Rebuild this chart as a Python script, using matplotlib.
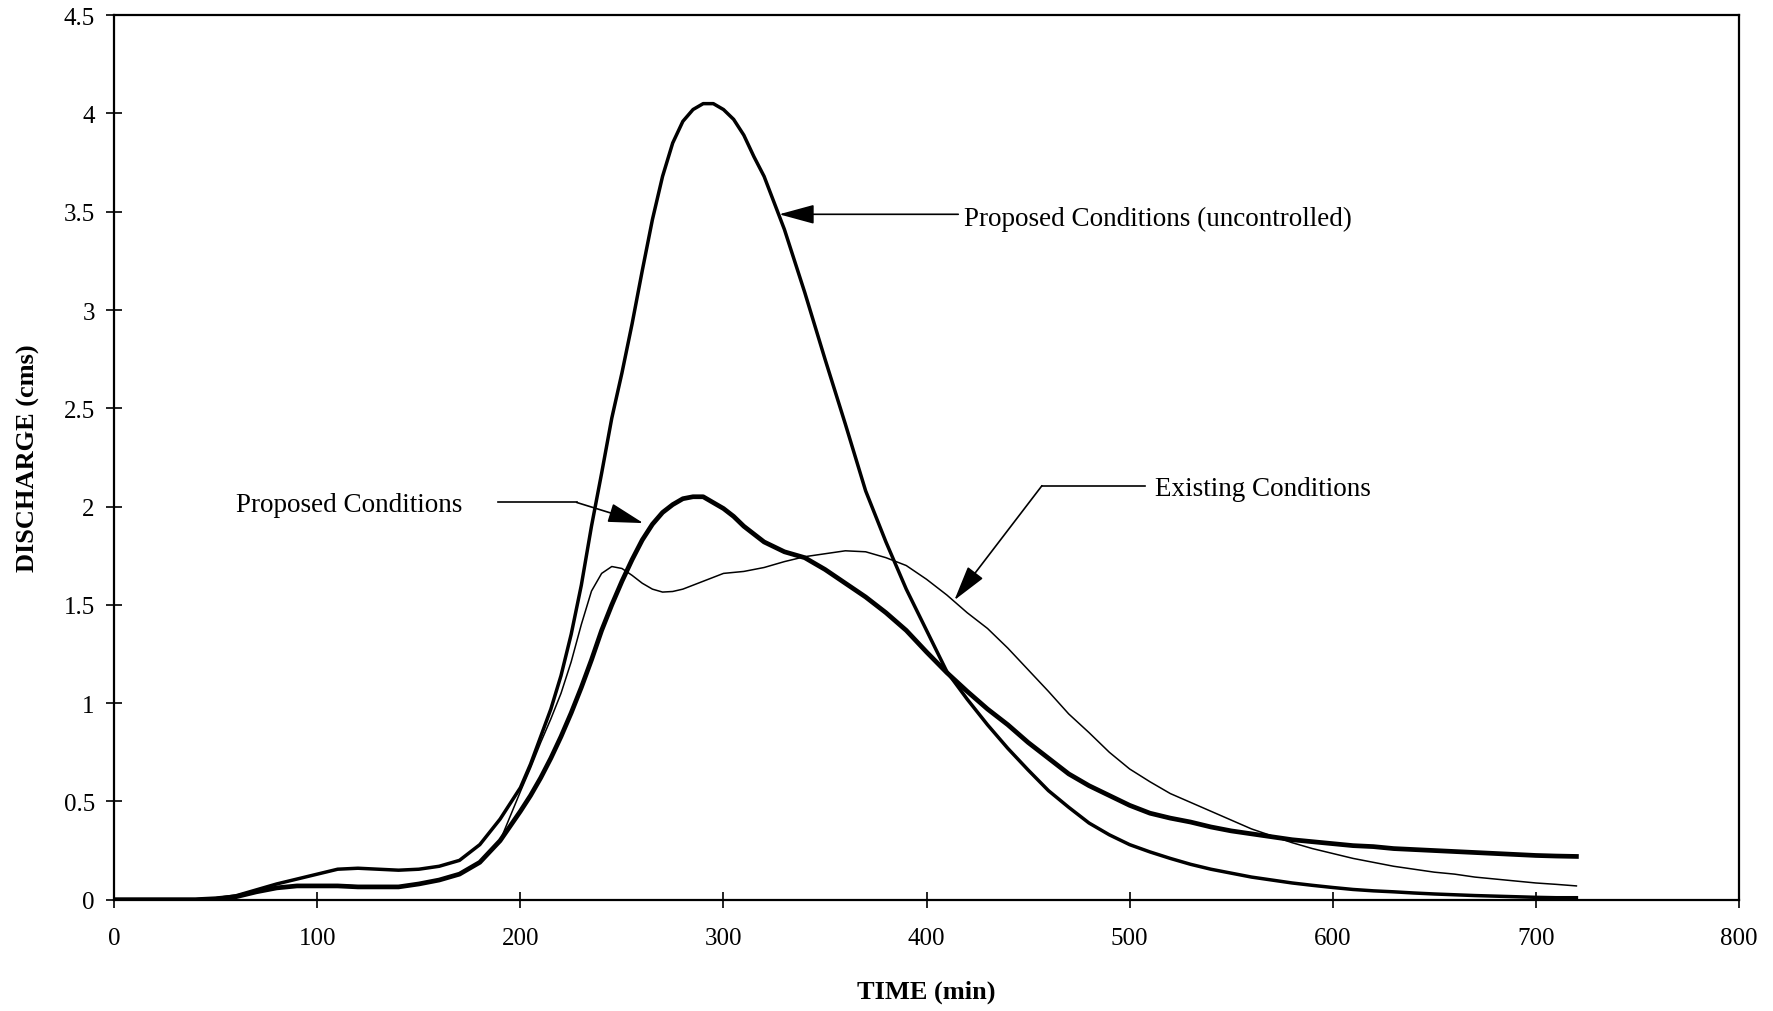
import matplotlib
matplotlib.use("Agg")
import matplotlib.pyplot as plt

# Hydrograph ordinates (time in minutes, discharge in cms);
# finer 5-minute spacing around the peaks
time_min = [0, 10, 20, 30, 40, 50, 60, 70, 80, 90, 100, 110, 120, 130, 140, 150,
            160, 170, 180, 190,
            200, 205, 210, 215, 220, 225, 230, 235, 240, 245, 250, 255, 260, 265,
            270, 275, 280, 285, 290, 295, 300, 305, 310, 315, 320,
            330, 340, 350, 360, 370, 380, 390, 400, 410, 420, 430,
            440, 450, 460, 470, 480, 490, 500, 510, 520, 530, 540, 550, 560, 570,
            580, 590, 600, 610, 620, 630, 640, 650, 660, 670, 680, 690, 700, 710,
            720]

proposed_uncontrolled = [0, 0, 0, 0, 0, 0.005, 0.02, 0.05, 0.08, 0.105, 0.13, 0.155,
                         0.16, 0.155, 0.15, 0.155, 0.17, 0.2, 0.28, 0.41,
                         0.57, 0.69, 0.83, 0.97, 1.14, 1.35, 1.6, 1.9, 2.17, 2.45,
                         2.68, 2.93, 3.2, 3.46, 3.68, 3.85, 3.96, 4.02, 4.05, 4.05,
                         4.02, 3.97, 3.89, 3.78, 3.68,
                         3.41, 3.09, 2.75, 2.42, 2.08, 1.82, 1.58, 1.37, 1.16, 1.02,
                         0.89, 0.77, 0.66, 0.555, 0.47, 0.39, 0.33, 0.28, 0.243,
                         0.21, 0.18, 0.155, 0.135, 0.115, 0.1, 0.085, 0.073, 0.062,
                         0.052, 0.045, 0.04, 0.034, 0.029, 0.025, 0.021, 0.018,
                         0.015, 0.012, 0.01, 0.01]

proposed = [0, 0, 0, 0, 0, 0.005, 0.015, 0.04, 0.06, 0.07, 0.07, 0.07, 0.065, 0.065,
            0.065, 0.08, 0.1, 0.13, 0.19, 0.3,
            0.45, 0.53, 0.62, 0.72, 0.83, 0.95, 1.08, 1.22, 1.37, 1.5, 1.62, 1.73,
            1.83, 1.91, 1.97, 2.01, 2.04, 2.05, 2.05, 2.02, 1.99, 1.95, 1.9, 1.86,
            1.82,
            1.77, 1.74, 1.68, 1.61, 1.54, 1.46, 1.37, 1.26, 1.155, 1.06, 0.97,
            0.89, 0.8, 0.72, 0.64, 0.58, 0.53, 0.48, 0.44, 0.415, 0.395, 0.37,
            0.35, 0.335, 0.32, 0.305, 0.295, 0.285, 0.275, 0.27, 0.26, 0.255,
            0.25, 0.245, 0.24, 0.235, 0.23, 0.225, 0.222, 0.22]

existing = [0, 0, 0, 0, 0, 0.005, 0.015, 0.04, 0.06, 0.07, 0.075, 0.075, 0.07, 0.065,
            0.065, 0.08, 0.1, 0.13, 0.19, 0.3,
            0.55, 0.67, 0.8, 0.92, 1.05, 1.21, 1.4, 1.57, 1.66, 1.695, 1.685, 1.65,
            1.61, 1.58, 1.565, 1.568, 1.58, 1.6, 1.62, 1.64, 1.66, 1.665, 1.67,
            1.68, 1.69,
            1.72, 1.745, 1.76, 1.775, 1.77, 1.74, 1.7, 1.63, 1.55, 1.46, 1.38,
            1.28, 1.17, 1.06, 0.945, 0.85, 0.75, 0.665, 0.6, 0.54, 0.495, 0.45,
            0.405, 0.36, 0.325, 0.29, 0.26, 0.235, 0.21, 0.19, 0.17, 0.155, 0.14,
            0.13, 0.115, 0.105, 0.095, 0.085, 0.078, 0.07]

x_ticks = [0, 100, 200, 300, 400, 500, 600, 700, 800]
y_ticks = [0, 0.5, 1, 1.5, 2, 2.5, 3, 3.5, 4, 4.5]
y_tick_labels = ["0", "0.5", "1", "1.5", "2", "2.5", "3", "3.5", "4", "4.5"]

plt.rcParams["font.family"] = ["Liberation Serif", "DejaVu Serif"]

fig = plt.figure(figsize=(17.74, 10.12), dpi=100)
ax = fig.add_axes([0.0644, 0.110, 0.9158, 0.874])

ax.plot(time_min, existing, color="black", lw=1.1)
ax.plot(time_min, proposed_uncontrolled, color="black", lw=2.5)
ax.plot(time_min, proposed, color="black", lw=3.4)

ax.set_xlim(0, 800)
ax.set_ylim(0, 4.5)
ax.set_xticks(x_ticks)
ax.set_xticklabels([str(v) for v in x_ticks])
ax.set_yticks(y_ticks)
ax.set_yticklabels(y_tick_labels)
ax.tick_params(axis="both", direction="inout", length=12, width=1.2,
               labelsize=18, color="black")
ax.tick_params(axis="x", pad=14)
ax.tick_params(axis="y", pad=8)

for side in ["left", "right", "top", "bottom"]:
    ax.spines[side].set_linewidth(1.6)
    ax.spines[side].set_color("black")

ax.set_xlabel("TIME (min)", fontsize=19, fontweight="bold", labelpad=22)
ax.set_ylabel("DISCHARGE (cms)", fontsize=19, fontweight="bold", labelpad=17)

arrow_kw = dict(arrowstyle="-|>,head_length=1.1,head_width=0.3",
                color="black", lw=1.2, mutation_scale=20, shrinkA=0, shrinkB=0)

# Uncontrolled proposed hydrograph label with a horizontal leader
ax.text(418.2, 3.465, "Proposed Conditions (uncontrolled)", fontsize=19.5,
        va="center", ha="left")
ax.annotate("", xy=(327.4, 3.487), xytext=(415.6, 3.487), arrowprops=arrow_kw)

# Controlled proposed hydrograph label with a bent leader
ax.text(60.2, 2.01, "Proposed Conditions", fontsize=19.5, va="center", ha="left")
ax.plot([189.1, 227.7], [2.021, 2.021], color="black", lw=1.2)
ax.annotate("", xy=(260.5, 1.916), xytext=(227.7, 2.021), arrowprops=arrow_kw)

# Existing hydrograph label with a bent leader
ax.text(512.4, 2.09, "Existing Conditions", fontsize=19.5, va="center", ha="left")
ax.plot([456.8, 507.5], [2.106, 2.106], color="black", lw=1.2)
ax.annotate("", xy=(413.7, 1.524), xytext=(456.8, 2.106), arrowprops=arrow_kw)

fig.savefig("out.png", dpi=100, facecolor="white")
